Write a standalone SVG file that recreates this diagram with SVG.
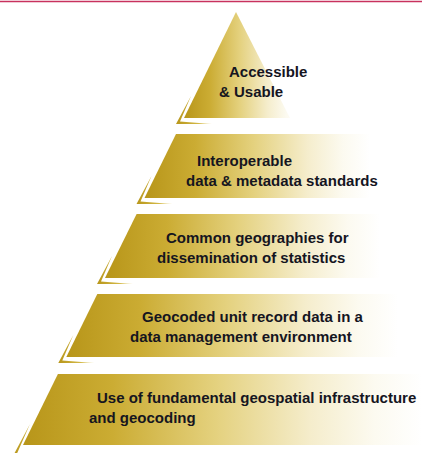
<svg xmlns="http://www.w3.org/2000/svg" xmlns:xlink="http://www.w3.org/1999/xlink" width="422" height="453" viewBox="0 0 422 453">
  <style>
    .lbl { font-family: "Liberation Sans", Arial, sans-serif; font-weight: bold; font-size: 15px; fill: #15151f; }
    .accent { fill: url(#accentGrad); }
  </style>
  <defs>
    <linearGradient id="gold" x1="0" y1="0" x2="1" y2="0">
      <stop offset="0" stop-color="#B8961A"/>
      <stop offset="0.22" stop-color="#CBAC33"/>
      <stop offset="0.48" stop-color="#E4D17E"/>
      <stop offset="0.72" stop-color="#F5EDCC"/>
      <stop offset="0.88" stop-color="#FCFAF0"/>
      <stop offset="1" stop-color="#FFFFFF"/>
    </linearGradient>
    <linearGradient id="g1" href="#gold" xlink:href="#gold" gradientUnits="userSpaceOnUse" x1="184" y1="0" x2="300" y2="0"/>
    <linearGradient id="g2" href="#gold" xlink:href="#gold" gradientUnits="userSpaceOnUse" x1="146" y1="0" x2="370" y2="0"/>
    <linearGradient id="g3" href="#gold" xlink:href="#gold" gradientUnits="userSpaceOnUse" x1="107" y1="0" x2="380" y2="0"/>
    <linearGradient id="g4" href="#gold" xlink:href="#gold" gradientUnits="userSpaceOnUse" x1="68" y1="0" x2="398" y2="0"/>
    <linearGradient id="g5" href="#gold" xlink:href="#gold" gradientUnits="userSpaceOnUse" x1="25" y1="0" x2="422" y2="0"/>
    <linearGradient id="accentGrad" x1="0" y1="0" x2="1" y2="0">
      <stop offset="0" stop-color="#B8961A"/>
      <stop offset="0.6" stop-color="#D2B744"/>
      <stop offset="1" stop-color="#EEE2A6"/>
    </linearGradient>
  </defs>

  <line x1="0" y1="1.5" x2="422" y2="1.5" stroke="#C8325E" stroke-width="1.4"/>

  <g id="tier1">
    <polygon points="236,12 290,118 184,118" fill="url(#g1)"/>
    <polygon class="accent" points="191,96 176,124 212,124 180,121.5"/>
    <text class="lbl" x="229" y="77">Accessible</text>
    <text class="lbl" x="219" y="97">&amp; Usable</text>
  </g>

  <g id="tier2">
    <polygon points="176,134 400,134 400,198 144.5,198" fill="url(#g2)"/>
    <polygon class="accent" points="151.5,176 136.5,204 172.5,204 140.5,201.5"/>
    <text class="lbl" x="197" y="166">Interoperable</text>
    <text class="lbl" x="186" y="186">data &amp; metadata standards</text>
  </g>

  <g id="tier3">
    <polygon points="136.6,214 410,214 410,278 105,278" fill="url(#g3)"/>
    <polygon class="accent" points="112,256 97,284 133,284 101,281.5"/>
    <text class="lbl" x="166" y="243">Common geographies for</text>
    <text class="lbl" x="157" y="263">dissemination of statistics</text>
  </g>

  <g id="tier4">
    <polygon points="97.3,294 422,294 422,357 66.3,357" fill="url(#g4)"/>
    <polygon class="accent" points="73.3,335 58.3,363 94.3,363 62.3,360.5"/>
    <text class="lbl" x="142" y="322">Geocoded unit record data in a</text>
    <text class="lbl" x="130" y="342">data management environment</text>
  </g>

  <g id="tier5">
    <polygon points="57.9,374 422,374 422,445 23,445" fill="url(#g5)"/>
    <polygon class="accent" points="30,424 13,456 49,456 17,453.5"/>
    <text class="lbl" x="97" y="403">Use of fundamental geospatial infrastructure</text>
    <text class="lbl" x="89" y="423">and geocoding</text>
  </g>
</svg>
